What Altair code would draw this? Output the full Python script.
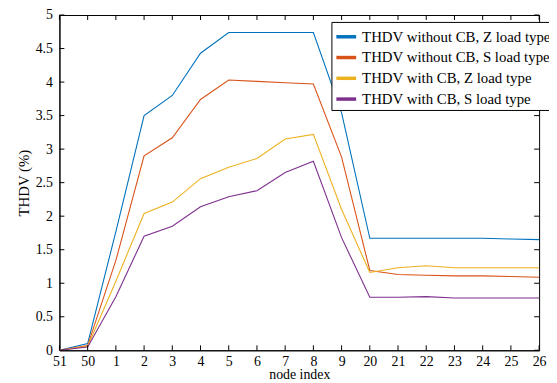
import altair as alt
import pandas as pd

nodes = ["51", "50", "1", "2", "3", "4", "5", "6", "7", "8", "9",
         "20", "21", "22", "23", "24", "25", "26"]

series_names = [
    "THDV without CB, Z load type",
    "THDV without CB, S load type",
    "THDV with CB, Z load type",
    "THDV with CB, S load type",
]

thdv_wo_cb_z = [0, 0.10, 1.77, 3.50, 3.80, 4.43, 4.74, 4.74, 4.74, 4.74, 3.54,
                1.67, 1.67, 1.67, 1.67, 1.67, 1.66, 1.65]
thdv_wo_cb_s = [0, 0.07, 1.34, 2.90, 3.17, 3.74, 4.03, 4.01, 3.99, 3.97, 2.88,
                1.19, 1.13, 1.12, 1.11, 1.11, 1.10, 1.09]
thdv_w_cb_z = [0, 0.06, 1.03, 2.04, 2.21, 2.56, 2.73, 2.86, 3.15, 3.22, 2.10,
               1.16, 1.23, 1.26, 1.23, 1.23, 1.23, 1.23]
thdv_w_cb_s = [0, 0.05, 0.80, 1.70, 1.85, 2.14, 2.29, 2.38, 2.65, 2.82, 1.68,
               0.79, 0.79, 0.80, 0.78, 0.78, 0.78, 0.78]

colors = ["#0072BD", "#D95319", "#EDB120", "#7E2F8E"]
y_ticks = [0, 0.5, 1, 1.5, 2, 2.5, 3, 3.5, 4, 4.5, 5]

rows = []
for name, vals in zip(series_names,
                      [thdv_wo_cb_z, thdv_wo_cb_s, thdv_w_cb_z, thdv_w_cb_s]):
    for n, v in zip(nodes, vals):
        rows.append({"node": n, "THDV": v, "series": name})
df = pd.DataFrame(rows)

W, H = 485, 339
FONT = "Liberation Serif"

x_axis = alt.Axis(title="node index", labelAngle=0, ticks=False,
                  labelOverlap=False, labelPadding=4, titlePadding=0,
                  labelFontSize=14, titleFontSize=14)
y_axis = alt.Axis(title="THDV (%)", values=y_ticks, format="~g",
                  labelOverlap=False, ticks=False, grid=False,
                  labelPadding=7, titlePadding=4, labelFontSize=14,
                  titleFontSize=15)
x_scale = alt.Scale(type="point", padding=0)
y_scale = alt.Scale(domain=[0, 5], nice=False)

lines = alt.Chart(df).mark_line(strokeWidth=1.1).encode(
    x=alt.X("node:O", sort=nodes, scale=x_scale, axis=x_axis),
    y=alt.Y("THDV:Q", scale=y_scale, axis=y_axis),
    color=alt.Color("series:N", sort=series_names,
                    scale=alt.Scale(domain=series_names, range=colors),
                    legend=alt.Legend(title=None, orient="none",
                                      legendX=275, legendY=7,
                                      symbolType="stroke", symbolSize=400,
                                      symbolStrokeWidth=3.5,
                                      labelFontSize=15, labelFont=FONT,
                                      labelColor="black",
                                      labelLimit=300, rowPadding=1,
                                      padding=3, strokeColor="black",
                                      fillColor="white")),
)

tick_df_x = pd.DataFrame({"node": nodes})
tick_df_y = pd.DataFrame({"THDV": y_ticks})

bx = alt.Chart(tick_df_x).mark_rule(color="black", strokeWidth=1).encode(
    x=alt.X("node:O", sort=nodes, scale=x_scale, axis=x_axis),
    y=alt.value(H), y2=alt.value(H - 5))
tx = alt.Chart(tick_df_x).mark_rule(color="black", strokeWidth=1).encode(
    x=alt.X("node:O", sort=nodes, scale=x_scale, axis=x_axis),
    y=alt.value(0), y2=alt.value(5))
ly = alt.Chart(tick_df_y).mark_rule(color="black", strokeWidth=1).encode(
    y=alt.Y("THDV:Q", scale=y_scale, axis=y_axis),
    x=alt.value(0), x2=alt.value(5))
ry = alt.Chart(tick_df_y).mark_rule(color="black", strokeWidth=1).encode(
    y=alt.Y("THDV:Q", scale=y_scale, axis=y_axis),
    x=alt.value(W), x2=alt.value(W - 5))

chart = alt.layer(lines, bx, tx, ly, ry).properties(
    width=W, height=H,
    background="white",
    autosize=alt.AutoSizeParams(type="none"),
    padding={"left": 52, "top": 5, "right": 10, "bottom": 33},
).configure_view(stroke="black", strokeWidth=1).configure_axis(
    domainColor="black", labelColor="black", titleColor="black",
    labelFont=FONT, titleFont=FONT, titleFontWeight="normal", grid=False,
)

chart.save("out.html", embed_options={"renderer": "svg", "actions": False})
